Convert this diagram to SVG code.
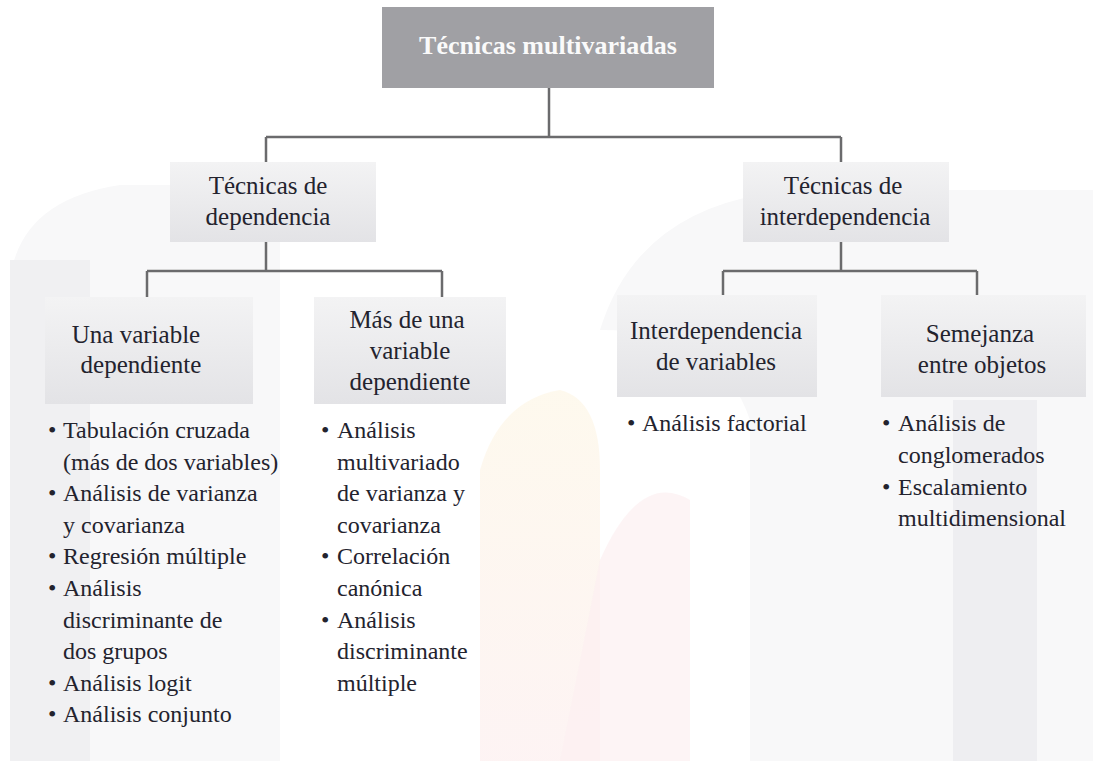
<svg xmlns="http://www.w3.org/2000/svg" width="1093" height="761" viewBox="0 0 1093 761">
<defs>
<linearGradient id="boxg" x1="0" y1="0" x2="0" y2="1">
<stop offset="0" stop-color="#f3f3f4"/>
<stop offset="1" stop-color="#e3e3e6"/>
</linearGradient>
<linearGradient id="warm" x1="0" y1="0" x2="0" y2="1">
<stop offset="0" stop-color="#fdf5e2"/>
<stop offset="1" stop-color="#fcecec"/>
</linearGradient>
<style>
.box{fill:url(#boxg)}
.top{fill:#a0a0a4}
.t{font-family:"Liberation Serif","Times New Roman",serif;font-size:25px;fill:#23232e}
.c{text-anchor:middle}
.b{font-family:"Liberation Serif","Times New Roman",serif;font-size:26px;font-weight:bold;fill:#fafafa;text-anchor:middle}
.li{font-family:"Liberation Serif","Times New Roman",serif;font-size:24px;fill:#23232e}
.con{fill:none;stroke:#6b6b6d;stroke-width:2.5}
</style>
</defs>
<rect width="1093" height="761" fill="#ffffff"/>
<g id="watermark">
<path d="M10 761 V280 Q20 200 120 185 H280 V761 Z" fill="#f8f8f9"/>
<rect x="10" y="260" width="80" height="501" fill="#f0f0f2"/>
<path d="M480 761 V470 Q500 400 560 390 Q600 400 600 470 V761 Z" fill="url(#warm)" opacity="0.6"/>
<path d="M560 761 L600 560 Q640 470 690 500 L690 761 Z" fill="#fcf0f1" opacity="0.7"/>
<path d="M600 330 Q640 200 800 190 H1093 V761 H750 V420 Q720 330 600 330 Z" fill="#f8f8f9"/>
<rect x="953" y="400" width="84" height="361" fill="#eeeef1"/>
</g>
<g id="connectors">
<path class="con" d="M549 88 V137 M266 137 H841 M266 137 V162 M841 137 V162"/>
<path class="con" d="M266 242 V271 M147 271 H442 M147 271 V297 M442 271 V297"/>
<path class="con" d="M841 242 V271 M723 271 H977 M723 271 V296 M977 271 V296"/>
</g>
<g id="n-root">
<rect class="top" x="382" y="7" width="332" height="81"/>
<text class="b" x="548" y="54">Técnicas multivariadas</text>
</g>
<g id="n-dep">
<rect class="box" x="170" y="162" width="206" height="80"/>
<text class="t c" x="268" y="194">Técnicas de</text>
<text class="t c" x="268" y="225">dependencia</text>
</g>
<g id="n-interdep">
<rect class="box" x="743" y="162" width="206" height="80"/>
<text class="t c" x="843" y="194">Técnicas de</text>
<text class="t c" x="845" y="225">interdependencia</text>
</g>
<g id="n-una">
<rect class="box" x="45" y="297" width="208" height="107"/>
<text class="t c" x="136" y="343">Una variable</text>
<text class="t c" x="141" y="373">dependiente</text>
</g>
<g id="n-mas">
<rect class="box" x="314" y="297" width="192" height="107"/>
<text class="t c" x="407" y="328">Más de una</text>
<text class="t c" x="410" y="359">variable</text>
<text class="t c" x="410" y="390">dependiente</text>
</g>
<g id="n-intervar">
<rect class="box" x="617" y="295" width="200" height="102"/>
<text class="t c" x="716" y="339">Interdependencia</text>
<text class="t c" x="716" y="370">de variables</text>
</g>
<g id="n-sem">
<rect class="box" x="881" y="295" width="205" height="102"/>
<text class="t c" x="980" y="342">Semejanza</text>
<text class="t c" x="982" y="373">entre objetos</text>
</g>
<g id="list-una" class="li">
<text x="48" y="438">•</text><text x="63" y="438">Tabulación cruzada</text>
<text x="63" y="469.5">(más de dos variables)</text>
<text x="48" y="501">•</text><text x="63" y="501">Análisis de varianza</text>
<text x="63" y="533">y covarianza</text>
<text x="48" y="564">•</text><text x="63" y="564">Regresión múltiple</text>
<text x="48" y="596">•</text><text x="63" y="596">Análisis</text>
<text x="63" y="628">discriminante de</text>
<text x="63" y="659">dos grupos</text>
<text x="48" y="691">•</text><text x="63" y="691">Análisis logit</text>
<text x="48" y="722">•</text><text x="63" y="722">Análisis conjunto</text>
</g>
<g id="list-mas" class="li">
<text x="321" y="438">•</text><text x="337" y="438">Análisis</text>
<text x="337" y="469.5">multivariado</text>
<text x="337" y="501">de varianza y</text>
<text x="337" y="533">covarianza</text>
<text x="321" y="564">•</text><text x="337" y="564">Correlación</text>
<text x="337" y="596">canónica</text>
<text x="321" y="628">•</text><text x="337" y="628">Análisis</text>
<text x="337" y="659">discriminante</text>
<text x="337" y="691">múltiple</text>
</g>
<g id="list-intervar" class="li">
<text x="627" y="431">•</text><text x="642" y="431">Análisis factorial</text>
</g>
<g id="list-sem" class="li">
<text x="882" y="431">•</text><text x="898" y="431">Análisis de</text>
<text x="898" y="463">conglomerados</text>
<text x="882" y="495">•</text><text x="898" y="495">Escalamiento</text>
<text x="898" y="526">multidimensional</text>
</g>
</svg>
